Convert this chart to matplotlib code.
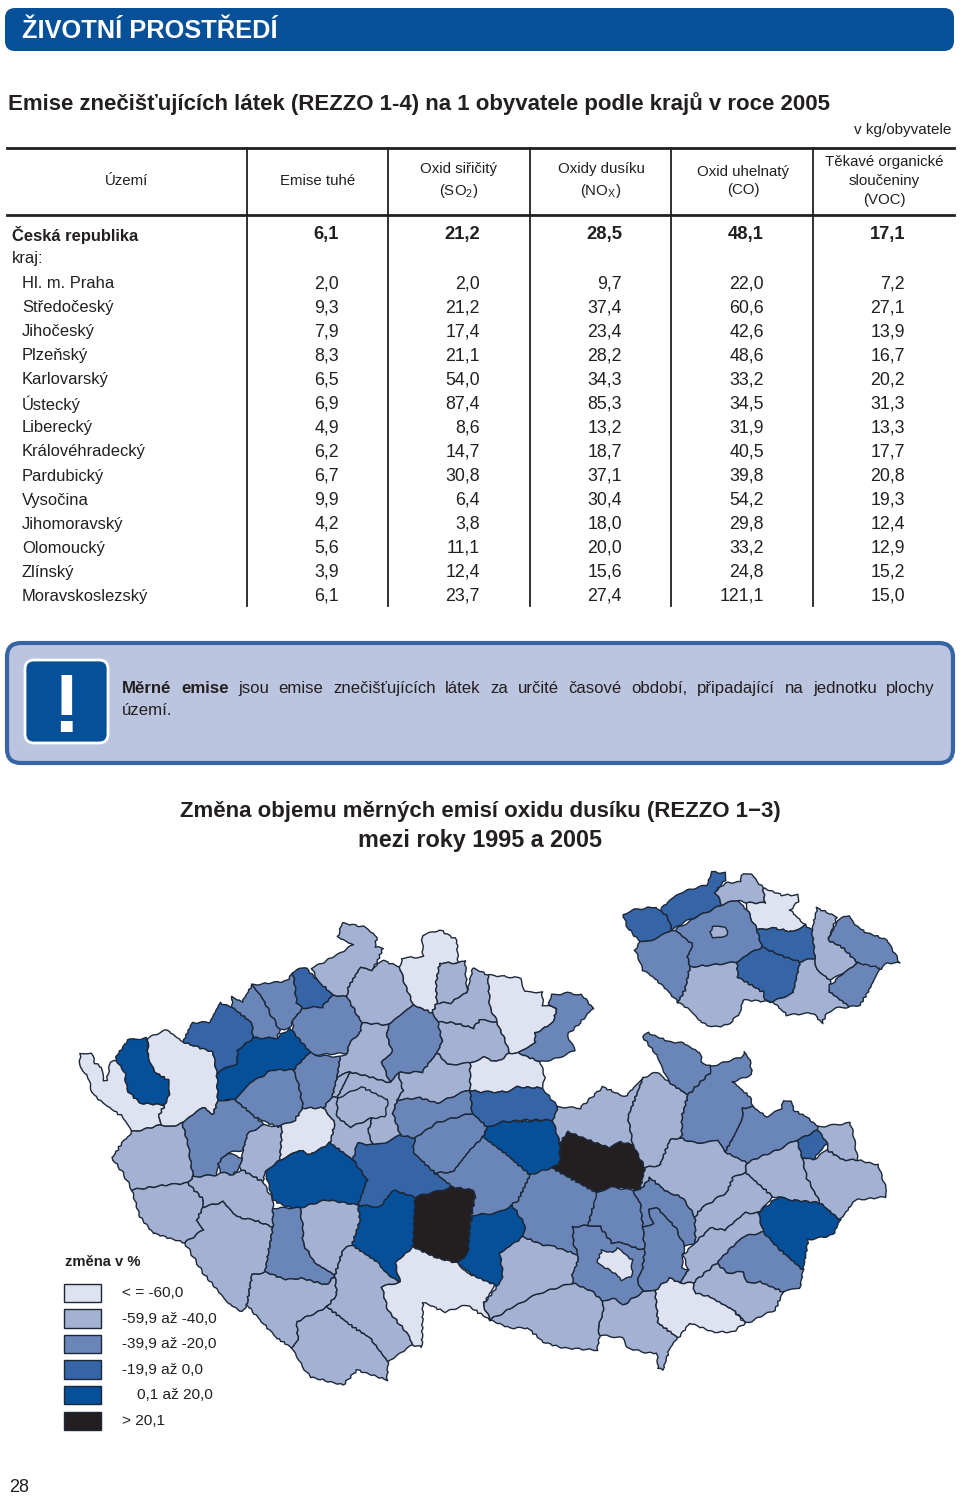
#!/usr/bin/env python3
"""Emise na obyvatele podle krajů (tabulka) a kartogram změny emisí NOx."""
import matplotlib

matplotlib.use("Agg")
import matplotlib.pyplot as plt
import numpy as np
from matplotlib.patches import FancyBboxPatch, Polygon, Rectangle

plt.rcParams["font.family"] = ["Liberation Sans", "DejaVu Sans"]
plt.rcParams["mathtext.fontset"] = "custom"
plt.rcParams["mathtext.rm"] = "Liberation Sans"

# tabulka
uzemi = ["Česká republika", "kraj:", "Hl. m. Praha", "Středočeský", "Jihočeský", "Plzeňský",
         "Karlovarský", "Ústecký", "Liberecký", "Královéhradecký", "Pardubický", "Vysočina",
         "Jihomoravský", "Olomoucký", "Zlínský", "Moravskoslezský"]
emise_tuhe = ["6,1", "", "2,0", "9,3", "7,9", "8,3", "6,5", "6,9", "4,9", "6,2", "6,7", "9,9",
              "4,2", "5,6", "3,9", "6,1"]
oxid_siricity = ["21,2", "", "2,0", "21,2", "17,4", "21,1", "54,0", "87,4", "8,6", "14,7", "30,8",
                 "6,4", "3,8", "11,1", "12,4", "23,7"]
oxidy_dusiku = ["28,5", "", "9,7", "37,4", "23,4", "28,2", "34,3", "85,3", "13,2", "18,7", "37,1",
                "30,4", "18,0", "20,0", "15,6", "27,4"]
oxid_uhelnaty = ["48,1", "", "22,0", "60,6", "42,6", "48,6", "33,2", "34,5", "31,9", "40,5", "39,8",
                 "54,2", "29,8", "33,2", "24,8", "121,1"]
tekave = ["17,1", "", "7,2", "27,1", "13,9", "16,7", "20,2", "31,3", "13,3", "17,7", "20,8",
          "19,3", "12,4", "12,9", "15,2", "15,0"]
sloupce = [emise_tuhe, oxid_siricity, oxidy_dusiku, oxid_uhelnaty, tekave]
hlavicky = ["Emise tuhé", "Oxid siřičitý\n(SO$_{\\mathrm{2}}$)", "Oxidy dusíku\n(NO$_{\\mathrm{X}}$)",
            "Oxid uhelnatý\n(CO)", "Těkavé organické\nsloučeniny\n(VOC)"]

# legenda
tridy_barvy = ["#dfe2f0", "#a3b1d3", "#6a86b8", "#3565a6", "#064f99", "#231f20"]
tridy_popisky = ["< = -60,0", "-59,9 až -40,0", "-39,9 až -20,0", "-19,9 až 0,0", "0,1 až 20,0", "> 20,1"]

# okresy: obrysy v pixelech předlohy, třída podle legendy
okresy = {
    "Cheb": [(80,1053),(92,1053),(95,1063),(102,1068),(103,1080),(107,1080),(110,1063),(115,1060),(123,1068),(125,1073),(127,1090),(140,1103),(165,1105),(158,1117),(162,1125),(132,1132),(123,1117),(103,1103),(92,1093),(88,1077),(80,1067)],
    "Sokolov": [(115,1058),(128,1040),(147,1038),(148,1057),(155,1072),(168,1080),(170,1092),(165,1105),(140,1103),(127,1090),(125,1073)],
    "Karlovy Vary": [(148,1038),(167,1030),(183,1042),(213,1052),(217,1073),(218,1100),(213,1115),(203,1107),(182,1123),(170,1127),(162,1125),(158,1117),(165,1105),(170,1092),(168,1080),(155,1072),(148,1057)],
    "Chomutov": [(183,1042),(192,1023),(210,1022),(220,1003),(232,1007),(252,1023),(253,1038),(238,1050),(237,1063),(217,1073),(213,1052)],
    "Most": [(232,997),(242,1002),(252,985),(262,997),(270,1013),(280,1030),(277,1038),(253,1038),(252,1023),(232,1007)],
    "Teplice": [(252,985),(287,981),(293,972),(297,1003),(303,1008),(293,1020),(290,1028),(280,1030),(270,1013),(262,997)],
    "Ústí n. L.": [(293,972),(305,967),(317,980),(333,995),(322,1007),(303,1008),(297,1003)],
    "Děčín": [(312,968),(337,955),(353,945),(338,937),(342,923),(365,927),(377,937),(375,947),(383,948),(378,960),(372,970),(360,968),(348,988),(347,997),(333,995),(317,980)],
    "Litoměřice": [(333,995),(347,997),(362,1023),(360,1033),(350,1042),(347,1053),(313,1055),(308,1050),(293,1033),(293,1020),(303,1008),(322,1007)],
    "Česká Lípa": [(348,988),(360,968),(372,970),(382,960),(400,967),(403,978),(413,1005),(388,1025),(362,1023),(347,997)],
    "Liberec": [(400,967),(402,958),(423,957),(422,935),(440,930),(457,940),(458,963),(440,963),(436,983),(437,1003),(432,1013),(413,1005),(403,978)],
    "Jablonec": [(440,963),(458,963),(465,960),(467,992),(450,1003),(437,1003),(436,983)],
    "Semily": [(467,992),(473,968),(488,975),(490,1007),(497,1022),(480,1020),(473,1028),(453,1023),(438,1022),(432,1013),(437,1003),(450,1003)],
    "Trutnov": [(488,975),(520,978),(525,992),(542,992),(543,1005),(557,1008),(553,1023),(535,1033),(535,1043),(518,1053),(510,1053),(497,1022),(490,1007)],
    "Náchod": [(548,1005),(552,995),(568,993),(582,995),(593,1008),(580,1023),(567,1035),(575,1050),(558,1058),(540,1062),(518,1053),(535,1043),(535,1033),(553,1023),(557,1008)],
    "Ml. Boleslav": [(388,1025),(413,1005),(432,1013),(438,1022),(442,1042),(437,1053),(422,1072),(398,1073),(390,1083),(382,1062),(392,1052),(387,1037)],
    "Mělník": [(362,1023),(388,1025),(387,1037),(392,1052),(382,1062),(390,1083),(370,1077),(350,1072),(337,1077),(340,1057),(347,1053),(350,1042),(360,1033)],
    "Jičín": [(438,1022),(453,1023),(473,1028),(480,1020),(497,1022),(510,1053),(497,1062),(483,1057),(470,1063),(448,1065),(437,1053),(442,1042)],
    "Hradec Kr.": [(470,1063),(483,1057),(497,1062),(510,1053),(518,1053),(540,1062),(545,1077),(542,1088),(517,1087),(507,1092),(480,1092),(470,1090)],
    "Nymburk": [(398,1073),(422,1072),(437,1053),(448,1065),(470,1063),(470,1090),(457,1095),(437,1103),(420,1098),(397,1100),(403,1090)],
    "Pardubice": [(470,1090),(480,1092),(507,1092),(517,1087),(542,1088),(558,1107),(553,1120),(523,1120),(503,1122),(487,1127),(472,1113)],
    "Chrudim": [(483,1137),(487,1127),(503,1122),(553,1120),(560,1143),(560,1162),(552,1168),(537,1175),(530,1175),(507,1155)],
    "Ústí n. O.": [(553,1120),(558,1107),(580,1108),(603,1087),(625,1097),(643,1078),(628,1117),(633,1145),(620,1142),(610,1148),(593,1142),(568,1132),(560,1143)],
    "Žďár": [(568,1132),(593,1142),(610,1148),(620,1142),(633,1145),(645,1168),(640,1190),(610,1187),(597,1193),(552,1168),(560,1162),(560,1143)],
    "Svitavy": [(643,1078),(657,1072),(670,1083),(688,1095),(682,1117),(682,1135),(680,1138),(670,1140),(660,1165),(645,1168),(633,1145),(628,1117)],
    "Šumperk": [(643,1037),(648,1033),(670,1042),(683,1043),(700,1053),(702,1063),(712,1067),(710,1073),(688,1095),(670,1083),(662,1068),(658,1057)],
    "Bruntál": [(710,1067),(742,1057),(745,1052),(750,1060),(752,1075),(733,1082),(750,1097),(753,1107),(743,1108),(742,1120),(733,1138),(725,1152),(718,1140),(707,1143),(690,1142),(680,1138),(682,1135),(682,1117),(688,1095),(710,1073)],
    "Opava": [(753,1107),(767,1117),(782,1108),(783,1100),(792,1102),(793,1110),(807,1117),(818,1127),(818,1130),(797,1140),(777,1150),(747,1163),(725,1152),(733,1138),(742,1120),(743,1108)],
    "Ostrava": [(797,1140),(818,1130),(827,1143),(813,1160),(802,1157)],
    "Karviná": [(818,1127),(850,1123),(853,1133),(858,1160),(843,1160),(827,1150),(827,1143),(818,1130)],
    "Frýdek": [(858,1160),(878,1165),(887,1190),(885,1197),(855,1200),(840,1220),(820,1203),(807,1178),(802,1157),(813,1160),(827,1150),(843,1160)],
    "Nový Jičín": [(747,1163),(777,1150),(797,1140),(802,1157),(807,1178),(820,1203),(790,1200),(778,1197),(773,1197),(745,1172)],
    "Olomouc": [(645,1168),(660,1165),(670,1140),(680,1138),(690,1142),(707,1143),(718,1140),(725,1152),(747,1163),(745,1172),(733,1178),(727,1192),(702,1208),(695,1217),(683,1198),(667,1192),(650,1178),(640,1190)],
    "Přerov": [(702,1208),(727,1192),(733,1178),(745,1172),(773,1197),(758,1213),(745,1213),(725,1230),(710,1228),(705,1233),(695,1243),(695,1217)],
    "Vsetín": [(758,1213),(778,1197),(790,1200),(820,1203),(840,1220),(833,1235),(808,1240),(803,1270),(780,1250),(763,1232)],
    "Kroměříž": [(683,1255),(695,1243),(705,1233),(710,1228),(725,1230),(745,1213),(758,1213),(763,1232),(743,1237),(727,1252),(717,1263),(693,1283),(680,1283),(688,1270)],
    "Zlín": [(717,1263),(727,1252),(743,1237),(763,1232),(780,1250),(803,1270),(800,1288),(783,1292),(760,1282),(747,1283),(743,1272),(727,1273)],
    "Uh. Hradiště": [(693,1283),(717,1263),(727,1273),(743,1272),(747,1283),(760,1282),(783,1292),(775,1310),(747,1323),(733,1310),(710,1297),(695,1293)],
    "Hodonín": [(655,1290),(670,1278),(680,1283),(693,1283),(695,1293),(710,1297),(733,1310),(745,1323),(733,1332),(713,1332),(690,1323),(678,1338),(658,1323),(657,1313)],
    "Prostějov": [(632,1190),(640,1190),(650,1178),(667,1192),(683,1198),(695,1217),(695,1243),(685,1247),(675,1227),(657,1208),(648,1210),(653,1223),(643,1228),(640,1203)],
    "Blansko": [(592,1193),(597,1193),(610,1187),(632,1190),(640,1203),(643,1228),(645,1250),(635,1248),(623,1243),(612,1243),(600,1227),(588,1225),(593,1207)],
    "Vyškov": [(648,1210),(657,1208),(675,1227),(685,1247),(683,1255),(682,1267),(688,1270),(680,1283),(670,1278),(655,1290),(643,1292),(637,1280),(642,1270),(645,1250),(643,1228),(653,1223)],
    "Brno-venkov": [(573,1227),(588,1225),(600,1227),(612,1243),(623,1243),(635,1248),(645,1250),(642,1270),(637,1280),(643,1292),(623,1305),(613,1298),(603,1302),(593,1292),(573,1283),(572,1275),(577,1263),(578,1255),(573,1243)],
    "Brno-město": [(597,1262),(602,1250),(613,1253),(618,1248),(632,1260),(632,1277),(622,1280),(613,1272),(600,1265)],
    "Břeclav": [(603,1302),(613,1298),(623,1305),(643,1292),(655,1290),(657,1313),(658,1323),(678,1338),(670,1347),(663,1370),(658,1368),(657,1353),(647,1353),(628,1348),(622,1338),(600,1335),(598,1327),(603,1313)],
    "Znojmo": [(490,1320),(520,1303),(540,1293),(573,1283),(593,1292),(603,1302),(603,1313),(598,1327),(600,1335),(597,1350),(563,1348),(543,1342),(528,1328),(510,1328)],
    "Třebíč": [(530,1175),(552,1168),(597,1193),(593,1207),(588,1225),(573,1227),(573,1243),(578,1255),(555,1247),(543,1245),(523,1237),(525,1225),(512,1205),(518,1200)],
    "Jihlava-okres": [(473,1215),(497,1213),(512,1205),(525,1225),(523,1237),(500,1253),(503,1277),(500,1287),(477,1278),(457,1263),(468,1253),(470,1223)],
    "Mor. Krumlov": [(500,1253),(523,1237),(543,1245),(555,1247),(578,1255),(577,1263),(572,1275),(573,1283),(540,1293),(520,1303),(490,1320),(483,1305),(497,1287),(503,1277)],
    "Pelhřimov-č.": [(415,1197),(453,1187),(473,1190),(475,1197),(470,1223),(468,1253),(457,1263),(437,1258),(413,1247),(413,1223)],
    "Tábor": [(358,1205),(380,1207),(393,1190),(415,1197),(413,1247),(395,1263),(400,1282),(388,1275),(377,1262),(352,1245),(360,1220)],
    "Benešov": [(353,1160),(357,1143),(373,1145),(385,1143),(400,1135),(415,1138),(413,1152),(435,1173),(453,1187),(415,1197),(393,1190),(380,1207),(358,1205),(367,1180)],
    "Kolín": [(397,1100),(420,1098),(437,1103),(457,1095),(470,1090),(472,1113),(437,1123),(415,1138),(400,1135),(393,1113)],
    "Kutná Hora": [(415,1138),(437,1123),(472,1113),(487,1127),(483,1137),(470,1150),(453,1172),(435,1173),(413,1152)],
    "Havl. Brod": [(453,1172),(470,1150),(483,1137),(507,1155),(530,1175),(518,1200),(512,1205),(497,1213),(473,1215),(470,1223),(475,1197),(473,1190),(453,1187),(435,1173)],
    "Praha-východ": [(350,1072),(370,1077),(390,1083),(398,1073),(403,1090),(397,1100),(393,1113),(400,1135),(385,1143),(373,1145),(368,1132),(372,1118),(350,1127),(337,1098)],
    "Praha": [(337,1098),(362,1087),(388,1100),(385,1117),(372,1118),(350,1127),(337,1117)],
    "Kladno": [(332,1097),(337,1077),(350,1072),(337,1098)],
    "Praha-západ": [(323,1108),(332,1097),(337,1098),(337,1117),(350,1127),(372,1118),(368,1132),(373,1145),(357,1143),(353,1160),(330,1143),(335,1123)],
    "Kladno-z.": [(293,1070),(310,1052),(313,1055),(340,1057),(337,1077),(332,1097),(323,1108),(313,1108),(303,1108),(298,1083)],
    "Louny": [(217,1073),(237,1063),(238,1050),(253,1038),(277,1038),(290,1028),(298,1038),(310,1052),(293,1070),(273,1070),(250,1083),(235,1100),(218,1100)],
    "Rakovník": [(235,1100),(250,1083),(273,1070),(293,1070),(298,1083),(303,1108),(295,1120),(277,1127),(255,1117)],
    "Plzeň-sever": [(182,1123),(203,1107),(213,1115),(218,1100),(230,1100),(235,1100),(255,1117),(265,1125),(248,1133),(243,1150),(228,1153),(218,1163),(217,1175),(193,1177),(188,1145)],
    "Plzeň-město": [(218,1163),(228,1153),(242,1158),(240,1167),(233,1175),(220,1172)],
    "Rokycany": [(248,1133),(265,1125),(282,1127),(280,1160),(265,1172),(263,1182),(242,1170),(240,1167),(242,1158),(243,1150)],
    "Beroun": [(282,1127),(277,1127),(295,1120),(303,1108),(323,1108),(335,1123),(330,1143),(310,1155),(300,1150),(280,1160)],
    "Příbram": [(265,1172),(280,1160),(300,1150),(310,1155),(330,1143),(353,1160),(367,1180),(358,1205),(327,1200),(300,1208),(287,1207),(273,1200)],
    "Tachov": [(112,1158),(122,1143),(132,1132),(162,1125),(170,1127),(182,1123),(188,1145),(193,1177),(188,1183),(167,1185),(132,1190),(123,1173)],
    "Domažlice": [(132,1190),(167,1185),(188,1183),(202,1198),(203,1207),(197,1220),(203,1230),(185,1243),(153,1233),(140,1217)],
    "Plzeň-jih": [(188,1183),(193,1177),(217,1175),(220,1172),(233,1175),(242,1170),(263,1182),(273,1200),(273,1227),(253,1220),(237,1217),(223,1202),(203,1207),(202,1198)],
    "Klatovy": [(203,1207),(223,1202),(237,1217),(253,1220),(273,1227),(265,1272),(252,1275),(247,1305),(242,1312),(228,1303),(203,1273),(185,1243),(203,1230),(197,1220)],
    "Strakonice": [(273,1208),(300,1208),(303,1227),(303,1243),(315,1263),(335,1275),(327,1285),(300,1278),(287,1280),(265,1272),(273,1227)],
    "Písek": [(300,1208),(327,1200),(358,1205),(360,1220),(352,1245),(343,1250),(335,1275),(315,1263),(303,1243),(303,1227)],
    "Prachatice": [(252,1275),(265,1272),(287,1280),(300,1278),(327,1285),(335,1275),(337,1295),(327,1307),(297,1322),(298,1340),(292,1348),(277,1338),(260,1320),(247,1305)],
    "Č. Budějovice": [(343,1250),(352,1245),(377,1262),(388,1275),(400,1282),(382,1287),(388,1310),(410,1337),(412,1345),(388,1362),(370,1338),(353,1327),(327,1307),(337,1295),(335,1275)],
    "Č. Krumlov": [(297,1322),(327,1307),(353,1327),(370,1338),(388,1362),(387,1380),(357,1370),(343,1385),(310,1377),(303,1367),(292,1348),(298,1340)],
    "J. Hradec": [(395,1263),(413,1247),(437,1258),(457,1263),(467,1273),(495,1285),(483,1305),(490,1320),(467,1305),(445,1312),(423,1302),(422,1347),(412,1345),(410,1337),(388,1310),(382,1287),(400,1282)],
}
okresy_trida = [0, 4, 0, 3, 2, 2, 3, 1, 2, 1, 0, 1, 1, 0, 2, 2, 1, 1, 0, 1, 3, 4, 1, 5, 1, 2, 2, 2, 3, 1, 1, 1, 1, 1,
                4, 1, 2, 1, 0, 2, 2, 2, 2, 0, 1, 1, 2, 4, 1, 5, 4, 3, 2, 2, 2, 1, 1, 1, 1, 2, 4, 2, 2, 2, 1, 0, 4,
                1, 1, 1, 1, 2, 1, 1, 1, 1, 0]

# vložená mapa krajů
kraje = {
    "Karlovarský": [(623,915),(633,910),(653,907),(660,910),(668,917),(672,930),(652,940),(640,942),(627,927)],
    "Ústecký": [(660,910),(670,900),(682,892),(707,885),(712,872),(725,873),(725,880),(715,892),(722,905),(700,915),(683,923),(672,930),(668,917)],
    "Liberecký": [(715,892),(725,883),(740,882),(743,873),(752,875),(763,888),(765,903),(747,903),(737,900),(722,905)],
    "Královéhradecký": [(763,888),(782,895),(797,895),(798,902),(790,910),(805,925),(793,932),(773,928),(757,930),(747,910),(747,903),(765,903)],
    "Středočeský": [(675,930),(700,915),(722,905),(737,900),(747,910),(757,930),(762,947),(750,953),(737,962),(713,965),(690,967),(687,957),(693,945)],
    "Praha": [(710,932),(713,927),(725,927),(728,933),(722,938),(713,938)],
    "Plzeňský": [(635,950),(640,942),(652,940),(672,930),(675,930),(693,945),(687,957),(690,967),(685,990),(678,1002),(665,988),(653,977),(643,970),(637,955)],
    "Jihočeský": [(690,967),(713,965),(737,962),(738,977),(763,992),(773,1002),(743,1000),(740,1013),(728,1025),(713,1027),(702,1023),(690,1010),(678,1002),(685,990)],
    "Vysočina": [(737,962),(750,953),(762,947),(780,955),(800,962),(793,993),(773,1002),(765,1000),(763,992),(738,977)],
    "Pardubický": [(757,930),(773,928),(793,932),(805,925),(812,930),(815,958),(800,962),(780,955),(762,947)],
    "Jihomoravský": [(800,962),(815,958),(817,970),(830,980),(830,992),(850,1007),(837,1008),(827,1013),(822,1023),(813,1013),(787,1015),(773,1002),(793,993)],
    "Olomoucký": [(817,908),(837,917),(828,940),(842,947),(858,963),(845,972),(830,980),(817,970),(815,958),(812,930)],
    "Moravskoslezský": [(838,920),(850,915),(853,923),(865,932),(887,940),(900,963),(887,963),(877,972),(858,963),(842,947),(828,940)],
    "Zlínský": [(830,985),(845,972),(858,963),(880,968),(868,992),(860,1005),(850,1007),(830,992)],
}
kraje_trida = [3, 3, 1, 0, 2, 1, 2, 1, 3, 3, 1, 1, 2, 2]

TEXT = "#231f20"
MODRA = "#064f99"


def roztrepit(pts):
    """Zahustí obrys a zvlní ho podle polohy, takže sousední okresy mají stejnou hranici."""
    out = []
    for (x0, y0), (x1, y1) in zip(pts, pts[1:] + pts[:1]):
        n = max(1, int(np.hypot(x1 - x0, y1 - y0) / 2.5))
        for t in np.arange(n) / n:
            x = x0 + (x1 - x0) * t
            y = y0 + (y1 - y0) * t
            out.append((x + 0.8 * np.sin(1.7 * y + 0.6 * x), y + 0.8 * np.sin(1.9 * x - 0.5 * y)))
    return out


def kresli_mapu(ax, tvary, trida, lw):
    for pts, t in zip(tvary.values(), trida):
        ax.add_patch(Polygon(roztrepit(pts), closed=True, fc=tridy_barvy[t], ec="#1c2738", lw=lw, joinstyle="round"))


def radek_do_bloku(ax, casti, x0, x1, y, size):
    """Vysází slova (text, tučně) do bloku x0..x1 s rovnoměrnými mezerami."""
    r = ax.figure.canvas.get_renderer()
    txt = [ax.text(0, y, s, fontsize=size, fontweight="bold" if b else "normal", color=TEXT, va="center")
           for s, b in casti]
    sirky = [t.get_window_extent(r).width for t in txt]
    mezera = (x1 - x0 - sum(sirky)) / (len(txt) - 1)
    x = x0
    for t, w in zip(txt, sirky):
        t.set_x(x)
        x += w + mezera


fig = plt.figure(figsize=(9.6, 14.96), dpi=100)
ax = fig.add_axes([0, 0, 1, 1])
ax.set_xlim(0, 960)
ax.set_ylim(1496, 0)
ax.axis("off")

# záhlaví strany
ax.add_patch(FancyBboxPatch((13, 16), 933, 27, boxstyle="round,pad=8,rounding_size=10", fc=MODRA, ec="none"))
ax.text(22, 31, "ŽIVOTNÍ PROSTŘEDÍ", color="white", fontsize=18.3, fontweight="bold", va="center")
ax.text(8, 104, "Emise znečišťujících látek (REZZO 1-4) na 1 obyvatele podle krajů v roce 2005",
        fontsize=16.05, fontweight="bold", color=TEXT, va="center")
ax.text(951, 130, "v kg/obyvatele", fontsize=11, color=TEXT, ha="right", va="center")

# tabulka
ax.plot([7, 954], [148, 148], color=TEXT, lw=2)
ax.plot([7, 954], [214.5, 214.5], color=TEXT, lw=2)
for x in [246.5, 388, 529.5, 671, 812.5]:
    ax.plot([x, x], [148, 606], color=TEXT, lw=1.3)
ax.text(127, 181, "Území", fontsize=10.8, color=TEXT, ha="center", va="center")
for x, h in zip([318, 459, 601, 743, 884], hlavicky):
    ax.text(x, 181, h, fontsize=10.8, color=TEXT, ha="center", va="center", linespacing=1.42)

radky_y = [234, 258] + [283 + 24.07 * i for i in range(14)]
for i, (nazev, y) in enumerate(zip(uzemi, radky_y)):
    tucne = "bold" if i == 0 else "normal"
    ax.text(12 if i < 2 else 22, y + 0.5, nazev, fontsize=11.9, color=TEXT, va="center", fontweight=tucne)
    for pravy, sl in zip([339, 480, 622, 764, 905], sloupce):
        ax.text(pravy, y + 0.5, sl[i], fontsize=13.2 if i == 0 else 12.8, color=TEXT, ha="right", va="center",
                fontweight=tucne)

# rámeček s poznámkou
ax.add_patch(FancyBboxPatch((21, 657), 918, 92, boxstyle="round,pad=14,rounding_size=14",
                            fc="#bcc5df", ec="#3565a6", lw=3))
ax.add_patch(FancyBboxPatch((34, 669), 65, 65, boxstyle="round,pad=9,rounding_size=9",
                            fc=MODRA, ec="white", lw=2))
ax.text(66.5, 710, "!", color="white", fontsize=60, fontweight="bold", ha="center", va="center")
fig.canvas.draw()
veta = ("Měrné emise jsou emise znečišťujících látek za určité časové období, "
        "připadající na jednotku plochy").split()
radek_do_bloku(ax, [(s, i < 2) for i, s in enumerate(veta)], 122, 935, 688, 12.1)
ax.text(122, 710, "území.", fontsize=12.1, color=TEXT, va="center")

# kartogram
ax.text(480, 811, "Změna objemu měrných emisí oxidu dusíku (REZZO 1−3)", fontsize=16, fontweight="bold",
        color=TEXT, ha="center", va="center")
ax.text(480, 840, "mezi roky 1995 a 2005", fontsize=16.8, fontweight="bold", color=TEXT, ha="center", va="center")
kresli_mapu(ax, okresy, okresy_trida, 1.0)
kresli_mapu(ax, kraje, kraje_trida, 1.0)

# legenda
ax.text(65, 1262, "změna v %", fontsize=10.6, fontweight="bold", color=TEXT, va="center")
for i, (barva, popisek) in enumerate(zip(tridy_barvy, tridy_popisky)):
    top = 1283.5 + 25.6 * i
    ax.add_patch(Rectangle((63.5, top), 37.5, 18.5, fc=barva, ec="#1c2738", lw=1))
    ax.text(137 if i == 4 else 122, top + 9.5, popisek, fontsize=11.05, color=TEXT, va="center")

ax.text(9, 1487, "28", fontsize=13, color=TEXT, va="center")

fig.savefig("out.png", dpi=100)
